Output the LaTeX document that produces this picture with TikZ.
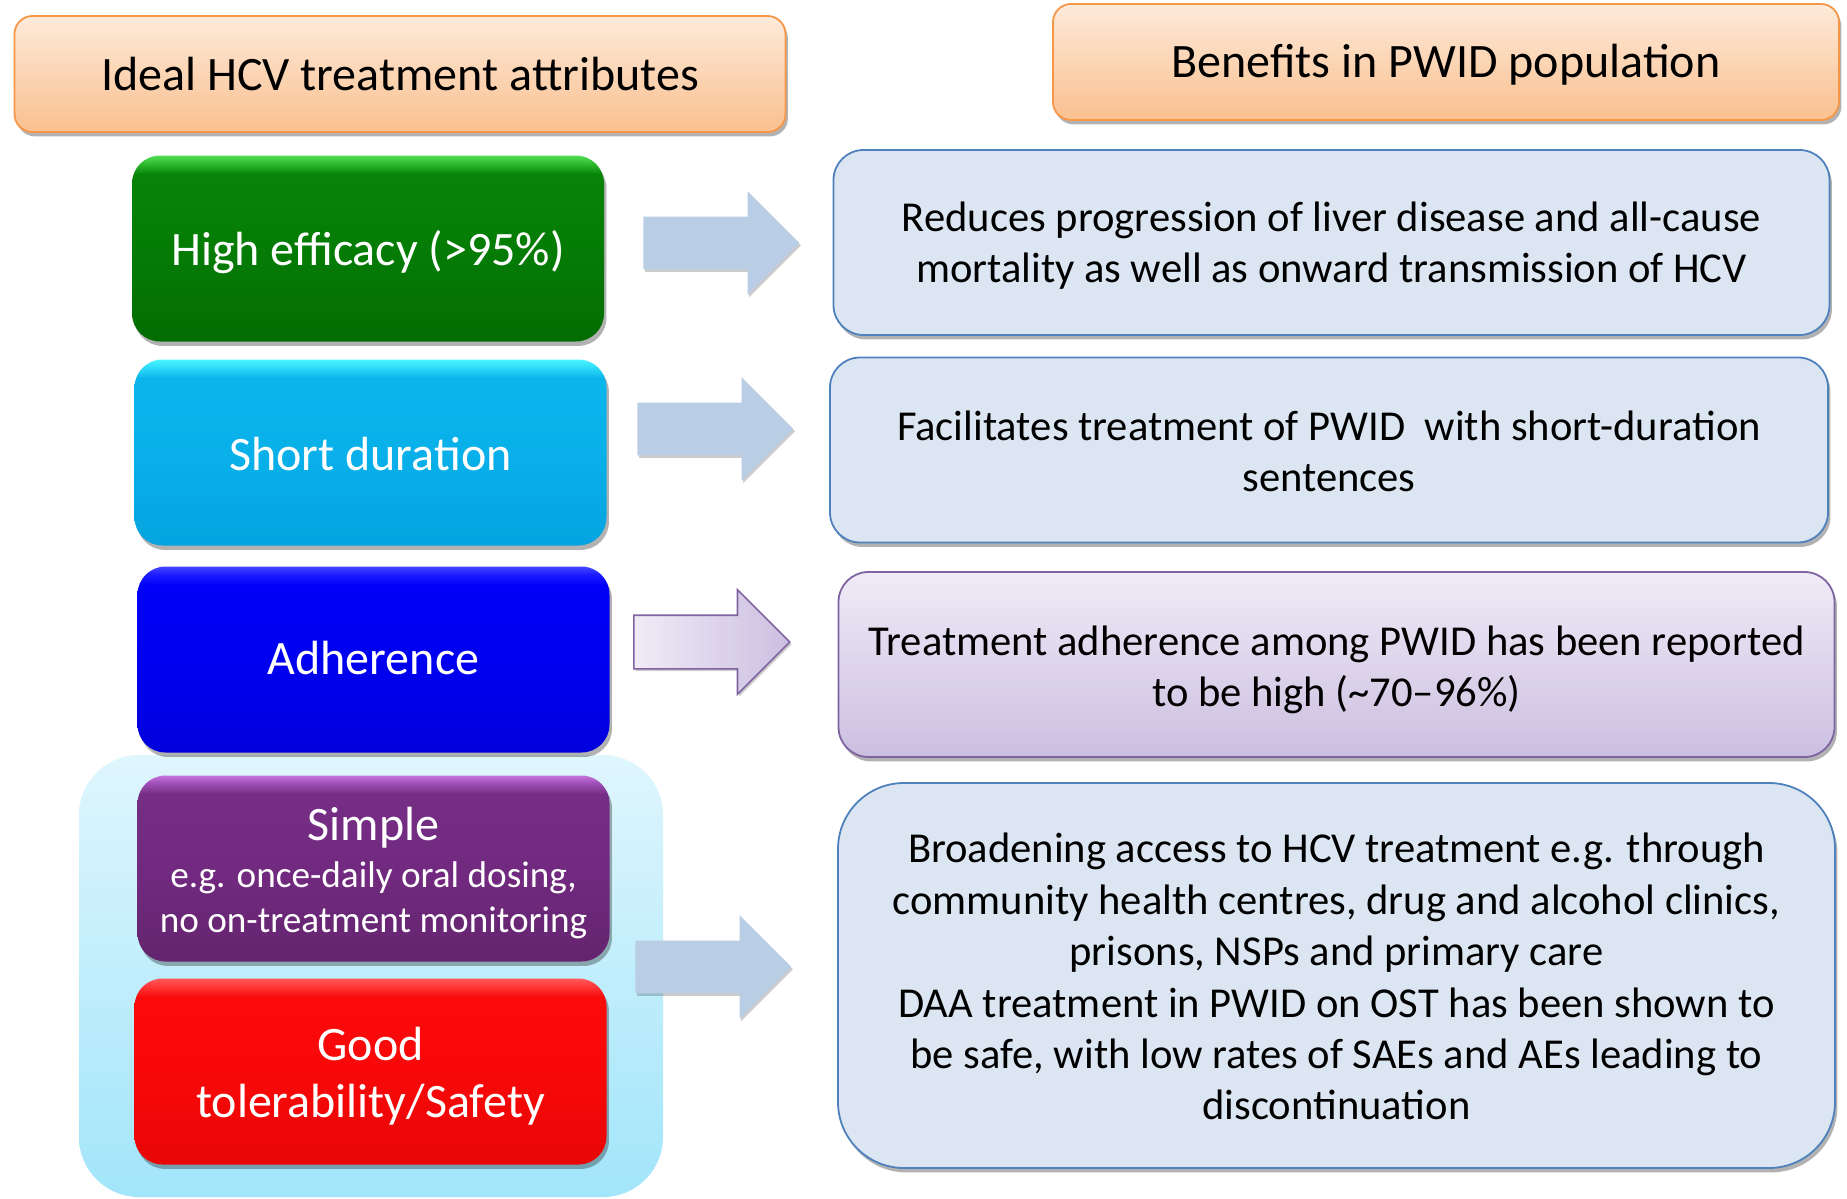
\documentclass[tikz,border=0pt]{standalone}
\usepackage{fontspec}
\setmainfont{Carlito}
\usetikzlibrary{shapes.arrows,shadows}

% palette
\definecolor{hdrtop}{HTML}{FDEADA}
\definecolor{hdrbot}{HTML}{FAC08F}
\definecolor{hdrline}{HTML}{F79646}
\definecolor{benfill}{HTML}{DCE6F2}
\definecolor{benline}{HTML}{4F81BD}
\definecolor{lavtop}{HTML}{F0EBF7}
\definecolor{lavbot}{HTML}{CBBFE0}
\definecolor{lavline}{HTML}{8064A2}
\definecolor{arrowfill}{HTML}{B9CDE5}
\definecolor{grptop}{HTML}{DFF6FD}
\definecolor{grpbot}{HTML}{A2E5FA}

% glossy fills for the attribute boxes (path box maps to 25bp..75bp)
\pgfdeclareverticalshading{glossgreen}{100bp}{color(0bp)=(rgb,255:red,3;green,108;blue,3); color(25bp)=(rgb,255:red,3;green,108;blue,3); color(50bp)=(rgb,255:red,5;green,124;blue,5); color(70bp)=(rgb,255:red,8;green,132;blue,8); color(73bp)=(rgb,255:red,48;green,190;blue,48); color(75bp)=(rgb,255:red,85;green,222;blue,85); color(100bp)=(rgb,255:red,85;green,222;blue,85)}
\pgfdeclareverticalshading{glosscyan}{100bp}{color(0bp)=(rgb,255:red,5;green,164;blue,224); color(25bp)=(rgb,255:red,5;green,164;blue,224); color(50bp)=(rgb,255:red,9;green,176;blue,233); color(70bp)=(rgb,255:red,11;green,181;blue,236); color(73bp)=(rgb,255:red,48;green,221;blue,248); color(75bp)=(rgb,255:red,72;green,245;blue,255); color(100bp)=(rgb,255:red,72;green,245;blue,255)}
\pgfdeclareverticalshading{glossblue}{100bp}{color(0bp)=(rgb,255:red,0;green,0;blue,220); color(25bp)=(rgb,255:red,0;green,0;blue,220); color(50bp)=(rgb,255:red,0;green,0;blue,240); color(70bp)=(rgb,255:red,0;green,0;blue,248); color(73bp)=(rgb,255:red,30;green,30;blue,255); color(75bp)=(rgb,255:red,70;green,70;blue,255); color(100bp)=(rgb,255:red,70;green,70;blue,255)}
\pgfdeclareverticalshading{glosspurple}{100bp}{color(0bp)=(rgb,255:red,100;green,36;blue,110); color(25bp)=(rgb,255:red,100;green,36;blue,110); color(50bp)=(rgb,255:red,114;green,42;blue,128); color(70bp)=(rgb,255:red,118;green,46;blue,133); color(73bp)=(rgb,255:red,160;green,80;blue,184); color(75bp)=(rgb,255:red,196;green,115;blue,216); color(100bp)=(rgb,255:red,196;green,115;blue,216)}
\pgfdeclareverticalshading{glossred}{100bp}{color(0bp)=(rgb,255:red,232;green,6;blue,6); color(25bp)=(rgb,255:red,232;green,6;blue,6); color(50bp)=(rgb,255:red,248;green,8;blue,8); color(70bp)=(rgb,255:red,250;green,10;blue,10); color(73bp)=(rgb,255:red,255;green,56;blue,56); color(75bp)=(rgb,255:red,255;green,90;blue,90); color(100bp)=(rgb,255:red,255;green,90;blue,90)}

\begin{document}
\begin{tikzpicture}[x=0.5pt,y=-0.5pt,
  softshadow/.style={drop shadow={shadow xshift=1.2pt,shadow yshift=-2.2pt,opacity=0.3,fill=black}},
  hdr/.style={rounded corners=9pt,draw=hdrline,line width=0.9pt,top color=hdrtop,bottom color=hdrbot,
    minimum height=58pt,inner sep=0pt,softshadow},
  hdrtxt/.style={inner sep=0pt,font=\fontsize{24}{28.8}\selectfont},
  attr/.style={rounded corners=14pt,shade,minimum width=236pt,minimum height=93pt,inner sep=0pt,softshadow},
  attrtxt/.style={inner sep=0pt,text=white,align=center,font=\fontsize{24}{28.8}\selectfont},
  ben/.style={rounded corners=15pt,draw=benline,line width=0.9pt,fill=benfill,minimum width=498pt,
    minimum height=92.5pt,inner sep=0pt,softshadow},
  bentxt/.style={inner sep=0pt,align=center,font=\fontsize{21.3}{25.7}\selectfont},
  blockarrow/.style={single arrow,single arrow head extend=12.75pt,minimum height=78pt,
    text height=26pt,text depth=0pt,text width=0pt,inner sep=0pt,anchor=tail},
  plainarrow/.style={blockarrow,fill=arrowfill,
    drop shadow={shadow xshift=0.8pt,shadow yshift=-1.2pt,opacity=0.2,fill=black}},
  lavarrow/.style={blockarrow,left color=lavtop,right color=lavbot,draw=lavline,line width=0.8pt,
    drop shadow={shadow xshift=0.8pt,shadow yshift=-1.2pt,opacity=0.2,fill=black}}
]
\useasboundingbox[fill=white] (0,0) rectangle (1847,1199);

% column headers
\node[hdr,minimum width=385.5pt] (hL) at (400,74) {};
\node[hdrtxt] (hLt) at (hL.center) {Ideal HCV treatment attributes};
\node[hdr,minimum width=393pt] (hR) at (1446,62) {};
\node[hdrtxt] (hRt) at ([yshift=-1.2pt]hR.center) {Benefits in PWID population};

% panel grouping the last two attributes
\node[rounded corners=30pt,top color=grptop,bottom color=grpbot,minimum width=292pt,
  minimum height=221pt,inner sep=0pt] (grp) at (371,976) {};

% treatment attributes
\node[attr,shading=glossgreen] (eff) at (368,248.5) {};
\node[attrtxt] (efft) at ([yshift=-1.8pt]eff.center) {High efficacy (>95\%)};
\node[attr,shading=glosscyan] (dur) at (370.5,452.5) {};
\node[attrtxt] (durt) at ([yshift=-0.6pt]dur.center) {Short duration};
\node[attr,shading=glossblue] (adh) at (373.5,659.5) {};
\node[attrtxt] (adht) at ([yshift=0.6pt]adh.center) {Adherence};
\node[attr,shading=glosspurple] (simp) at (373.5,868.5) {};
\node[attrtxt] (simpt) at ([yshift=-2.4pt]simp.center)
  {Simple\\[-5.4pt]{\fontsize{18.6}{22.4}\selectfont e.g. once-daily oral dosing,}\\[-6.3pt]{\fontsize{18.6}{22.4}\selectfont no on-treatment monitoring}};
\node[attr,shading=glossred] (tol) at (370.5,1071.5) {};
\node[attrtxt] (tolt) at ([yshift=-2.4pt]tol.center) {Good\\tolerability/Safety};

% benefits
\node[ben] (b1) at (1331.5,242.5) {};
\node[bentxt] (b1t) at ([yshift=-1.5pt]b1.center)
  {Reduces progression of liver disease and all-cause\\mortality as well as onward transmission of HCV};
\node[ben,minimum width=499pt] (b2) at (1329,450) {};
\node[bentxt] (b2t) at ([yshift=-0.6pt]b2.center)
  {Facilitates treatment of PWID\ \ with short-duration\\sentences};
\node[ben,draw=lavline,top color=lavtop,bottom color=lavbot] (b3) at (1336.5,664.5) {};
\node[bentxt] (b3t) at ([yshift=-2.6pt]b3.center)
  {Treatment adherence among PWID has been reported\\to be high (\textasciitilde 70–96\%)};
\node[ben,rounded corners=33pt,minimum width=498.5pt,minimum height=192.5pt] (b4) at (1336.5,975.5) {};
\node[bentxt] (b4t) at ([yshift=-0.6pt]b4.center)
  {Broadening access to HCV treatment e.g. through\\community health centres, drug and alcohol clinics,\\prisons, NSPs and primary care\\DAA treatment in PWID on OST has been shown to\\be safe, with low rates of SAEs and AEs leading to\\discontinuation};

% block arrows linking attributes to benefits
\node[plainarrow] (a1) at (643,243) {};
\node[plainarrow] (a2) at (637,429) {};
\node[lavarrow] (a3) at (633,642) {};
\node[plainarrow] (a4) at (635,967) {};
\end{tikzpicture}
\end{document}
